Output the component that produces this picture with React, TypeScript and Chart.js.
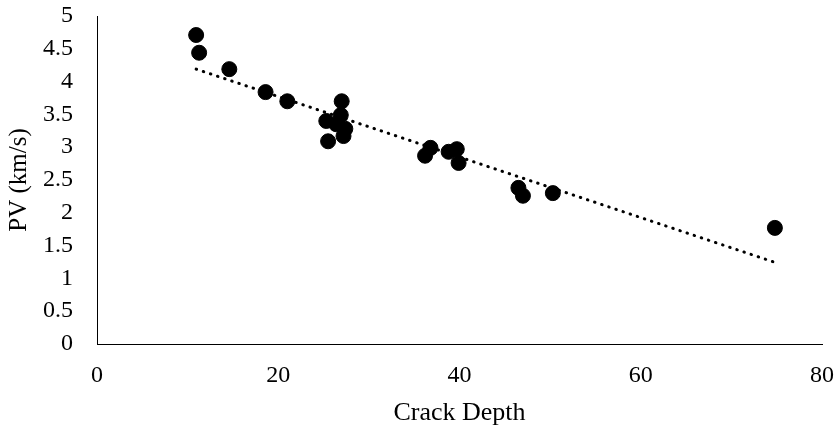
import React, { useEffect, useRef } from "react";
import { Chart, registerables } from "chart.js";

Chart.register(...registerables);

const crackDepth = [10.94, 11.27, 14.6, 18.6, 21.0, 25.3, 25.5, 26.4, 26.9, 27.0, 27.2, 27.4, 36.2, 36.8, 38.8, 39.7, 39.9, 46.5, 47.0, 50.3, 74.8];
const pulseVelocity = [4.71, 4.44, 4.19, 3.84, 3.70, 3.40, 3.09, 3.35, 3.49, 3.70, 3.17, 3.28, 2.87, 2.99, 2.93, 2.97, 2.76, 2.38, 2.26, 2.30, 1.77];
const xTicks = [0, 20, 40, 60, 80];
const yTicks = [0, 0.5, 1, 1.5, 2, 2.5, 3, 3.5, 4, 4.5, 5];

function linearFit(xs: number[], ys: number[]) {
  const n = xs.length;
  const mx = xs.reduce((a, b) => a + b, 0) / n;
  const my = ys.reduce((a, b) => a + b, 0) / n;
  let sxy = 0, sxx = 0;
  for (let i = 0; i < n; i++) {
    sxy += (xs[i] - mx) * (ys[i] - my);
    sxx += (xs[i] - mx) * (xs[i] - mx);
  }
  const slope = sxy / sxx;
  return { slope, intercept: my - slope * mx };
}

export default function App() {
  const ref = useRef<HTMLCanvasElement | null>(null);
  useEffect(() => {
    if (!ref.current) return;
    const fit = linearFit(crackDepth, pulseVelocity);
    const xmin = Math.min(...crackDepth);
    const xmax = Math.max(...crackDepth);
    const trend = [
      { x: xmin, y: fit.intercept + fit.slope * xmin },
      { x: xmax, y: fit.intercept + fit.slope * xmax },
    ];
    const family = "'Liberation Serif', 'Times New Roman', serif";
    const tickFont = { family, size: 24 };
    const chart = new Chart(ref.current, {
      type: "scatter",
      data: {
        datasets: [
          {
            label: "PV",
            data: crackDepth.map((x, i) => ({ x, y: pulseVelocity[i] })),
            backgroundColor: "#000",
            borderColor: "#000",
            pointRadius: 7.5,
            pointHoverRadius: 7.5,
            order: 1,
          },
          {
            label: "Trend",
            type: "line",
            data: trend,
            borderColor: "#000",
            borderWidth: 3,
            borderDash: [0.5, 7],
            borderCapStyle: "round",
            pointRadius: 0,
            fill: false,
            order: 2,
          } as any,
        ],
      },
      options: {
        animation: false,
        responsive: false,
        maintainAspectRatio: false,
        layout: { padding: { top: 16, right: 13, left: 0, bottom: 0 } },
        plugins: { legend: { display: false }, tooltip: { enabled: false } },
        scales: {
          x: {
            type: "linear",
            min: 0,
            max: 80,
            afterBuildTicks: (s: any) => { s.ticks = xTicks.map((v) => ({ value: v })); },
            afterFit: (s: any) => { s.height = 85; },
            grid: { display: false, drawTicks: true, tickLength: 17 },
            border: { display: true, color: "#000", width: 1 },
            ticks: { color: "#000", font: tickFont, padding: 0, callback: (v: any) => String(v) },
            title: { display: true, text: "Crack Depth", color: "#000", font: { family, size: 26 }, padding: { top: 0, bottom: 0 } },
          },
          y: {
            type: "linear",
            min: 0,
            max: 5,
            afterBuildTicks: (s: any) => { s.ticks = yTicks.map((v) => ({ value: v })); },
            afterFit: (s: any) => { s.width = 97; },
            grid: { display: false, drawTicks: true, tickLength: 24 },
            border: { display: true, color: "#000", width: 1 },
            ticks: { color: "#000", font: tickFont, padding: 0, callback: (v: any) => String(v) },
            title: { display: true, text: "PV (km/s)", color: "#000", font: { family, size: 25 }, padding: { top: 4, bottom: 4 } },
          },
        },
      },
    });
    return () => chart.destroy();
  }, []);
  return (
    <div style={{ position: "fixed", left: 0, top: 0, width: 835, height: 429, background: "#fff" }}>
      <canvas ref={ref} width={835} height={429} style={{ width: 835, height: 429, display: "block" }} />
    </div>
  );
}
